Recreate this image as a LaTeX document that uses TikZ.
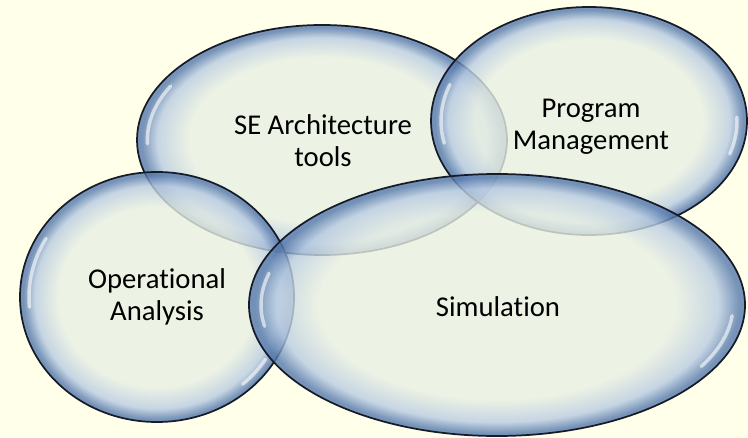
\documentclass[tikz,border=0pt]{standalone}
\usepackage{fontspec}
\setmainfont{Carlito}[Ligatures=NoCommon]
\definecolor{bgc}{HTML}{FFFFEA}
\definecolor{glassin}{HTML}{E8EFE3}
\definecolor{glassmid}{HTML}{B8CBE2}
\definecolor{glassout}{HTML}{5579AC}
\definecolor{rimc}{HTML}{151B28}
\pgfdeclareradialshading{glassshade}{\pgfpoint{0bp}{0bp}}{color(0bp)=(glassin); color(18bp)=(glassin); color(22.3bp)=(glassmid); color(24.4bp)=(glassout); color(25bp)=(glassout); color(50bp)=(glassout)}
\tikzset{
  glass/.style={shade, shading=glassshade, fill opacity=0.8, draw=rimc, draw opacity=1, line width=1.3pt},
  hl/.style={draw=white, line width=2.6pt, line cap=round, opacity=0.6},
  lbl/.style={font=\fontsize{21.5pt}{24pt}\selectfont, align=center, text=black}
}
\begin{document}
\begin{tikzpicture}[x=0.75pt,y=-0.75pt]
\fill[bgc] (0,0) rectangle (748,438);
\useasboundingbox (0,0) rectangle (748,438);
% ellipses
\path[glass] (322,140) ellipse [x radius=138.75pt, y radius=86.25pt];
\path[glass] (589,121) ellipse [x radius=118.5pt, y radius=85.5pt];
\path[glass] (157,297) ellipse [x radius=102.75pt, y radius=93.75pt];
\path[glass] (497,305) ellipse [x radius=186pt, y radius=98.25pt];
% highlights
\draw[hl] ([shift={(150:131pt and 81pt)}]322,140) arc[start angle=150, end angle=182, x radius=131pt, y radius=81pt];
\draw[hl] ([shift={(160:111pt and 80pt)}]589,121) arc[start angle=160, end angle=192, x radius=111pt, y radius=80pt];
\draw[hl] ([shift={(-18:111pt and 80pt)}]589,121) arc[start angle=-18, end angle=2, x radius=111pt, y radius=80pt];
\draw[hl] ([shift={(150:96pt and 88pt)}]157,297) arc[start angle=150, end angle=185, x radius=96pt, y radius=88pt];
\draw[hl] ([shift={(-48:96pt and 88pt)}]157,297) arc[start angle=-48, end angle=-32, x radius=96pt, y radius=88pt];
\draw[hl] ([shift={(-30:177pt and 92pt)}]497,305) arc[start angle=-30, end angle=-5, x radius=177pt, y radius=92pt];
\draw[hl] ([shift={(165:177pt and 92pt)}]497,305) arc[start angle=165, end angle=190, x radius=177pt, y radius=92pt];
% labels
\node[lbl] (se) at (323,141) {SE Architecture\\tools};
\node[lbl] (pm) at (591,127) {Program\\Management};
\node[lbl] (oa) at (157,297) {Operational\\Analysis};
\node[lbl] (sim) at (498,307) {Simulation};
\end{tikzpicture}
\end{document}
